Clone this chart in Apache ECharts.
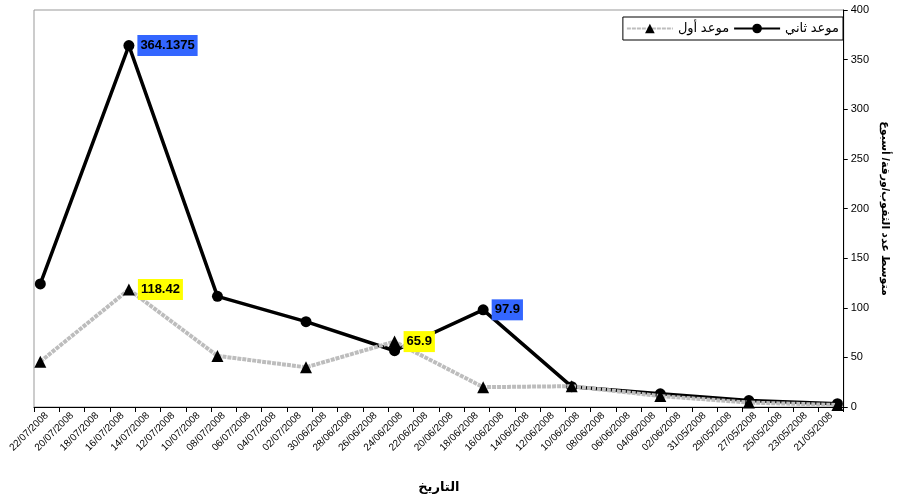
<!DOCTYPE html>
<html>
<head>
<meta charset="utf-8">
<script src="https://cdn.jsdelivr.net/npm/echarts@6/dist/echarts.min.js"></script>
<style>
html,body{margin:0;padding:0;background:#fff;}
#chart{width:899px;height:499px;}
</style>
</head>
<body>
<div id="chart"></div>
<script>
// ---- data ----
var tickLabels = ['22/07/2008','20/07/2008','18/07/2008','16/07/2008','14/07/2008','12/07/2008','10/07/2008','08/07/2008',
  '06/07/2008','04/07/2008','02/07/2008','30/06/2008','28/06/2008','26/06/2008','24/06/2008','22/06/2008',
  '20/06/2008','18/06/2008','16/06/2008','14/06/2008','12/06/2008','10/06/2008','08/06/2008','06/06/2008',
  '04/06/2008','02/06/2008','31/05/2008','29/05/2008','27/05/2008','25/05/2008','23/05/2008','21/05/2008'];
var sampleDates = ['22/07/2008','15/07/2008','08/07/2008','01/07/2008','24/06/2008','17/06/2008','10/06/2008','03/06/2008','27/05/2008','20/05/2008'];
var secondVisit = [124, 364.1375, 111.5, 86, 56.7, 97.9, 20.5, 13.3, 6.5, 3.3];   // موعد ثاني
var firstVisit  = [45.7, 118.42, 51.5, 40, 65.9, 20, 21, 11, 4.5, 2];            // موعد أول
var highlightSecond = {1: '#3366FF', 5: '#3366FF'};
var highlightFirst = {1: '#FFFF00', 4: '#FFFF00'};
var seriesNames = ['موعد أول', 'موعد ثاني'];
var xName = 'التاريخ';
var yName = 'متوسط عدد الثقوب/ورقة/ أسبوع';

// ---- helpers ----
function parseD(s){ var p = s.split('/'); return Date.UTC(+p[2], +p[1]-1, +p[0]); }
var origin = parseD(tickLabels[0]);
var spanDays = tickLabels.length * 2;
function dayPos(s){ return (origin - parseD(s)) / 86400000 + 0.5; }
var FONT = "'Liberation Sans', 'DejaVu Sans', Arial, sans-serif";

function build(vals, hl){
  return vals.map(function(v, i){
    var item = {value: [dayPos(sampleDates[i]), v]};
    if (hl[i]) {
      item.label = {show: true, position: 'right', distance: 3, backgroundColor: hl[i],
        color: '#000', fontWeight: 'bold', fontSize: 13, fontFamily: FONT, padding: [5, 3, 3, 3],
        formatter: function(p){ return String(p.value[1]); }};
    }
    return item;
  });
}

var chart = echarts.init(document.getElementById('chart'));
chart.setOption({
  animation: false,
  backgroundColor: '#fff',
  textStyle: {fontFamily: FONT},
  grid: {left: 34, right: 54, top: 10, bottom: 89, show: true, borderColor: '#999', borderWidth: 1},
  legend: {
    data: seriesNames,
    right: 56, top: 17,
    orient: 'horizontal',
    backgroundColor: '#fff',
    borderColor: '#000', borderWidth: 1, borderRadius: 0,
    padding: [5, 4, 5, 3],
    itemGap: 4, itemWidth: 46, itemHeight: 12,
    textStyle: {fontSize: 13, color: '#000', fontFamily: FONT}
  },
  xAxis: [
    {
      type: 'category', data: tickLabels, boundaryGap: true, position: 'bottom',
      name: xName, nameLocation: 'middle', nameGap: 74,
      nameTextStyle: {fontSize: 13, fontWeight: 'bold', color: '#000', fontFamily: FONT},
      axisLine: {onZero: false, lineStyle: {color: '#000', width: 1}},
      axisTick: {show: true, interval: 0, length: 5, lineStyle: {color: '#000'}},
      axisLabel: {interval: 0, rotate: 45, fontSize: 10, color: '#000', margin: 7, fontFamily: FONT},
      splitLine: {show: false}
    },
    {
      type: 'value', min: 0, max: spanDays, show: false, position: 'bottom',
      axisLine: {onZero: false}
    }
  ],
  yAxis: {
    type: 'value', position: 'right', min: 0, max: 400, interval: 50,
    name: yName, nameLocation: 'middle', nameRotate: -90, nameGap: 32,
    nameTextStyle: {fontSize: 11, fontWeight: 'bold', color: '#000', fontFamily: FONT},
    axisLine: {show: true, onZero: false, lineStyle: {color: '#000', width: 1}},
    axisTick: {show: true, length: 4, lineStyle: {color: '#000'}},
    axisLabel: {fontSize: 11, color: '#000', margin: 7, fontFamily: FONT},
    splitLine: {show: false}
  },
  series: [
    {
      name: seriesNames[0], type: 'line', xAxisIndex: 1,
      data: build(firstVisit, highlightFirst),
      symbol: 'triangle', symbolSize: 12,
      itemStyle: {color: '#000'},
      lineStyle: {color: '#bdbdbd', width: 4, type: [4, 1]},
      z: 3
    },
    {
      name: seriesNames[1], type: 'line', xAxisIndex: 1,
      data: build(secondVisit, highlightSecond),
      symbol: 'circle', symbolSize: 11,
      itemStyle: {color: '#000'},
      lineStyle: {color: '#000', width: 3.5},
      z: 2
    }
  ]
});
</script>
</body>
</html>
